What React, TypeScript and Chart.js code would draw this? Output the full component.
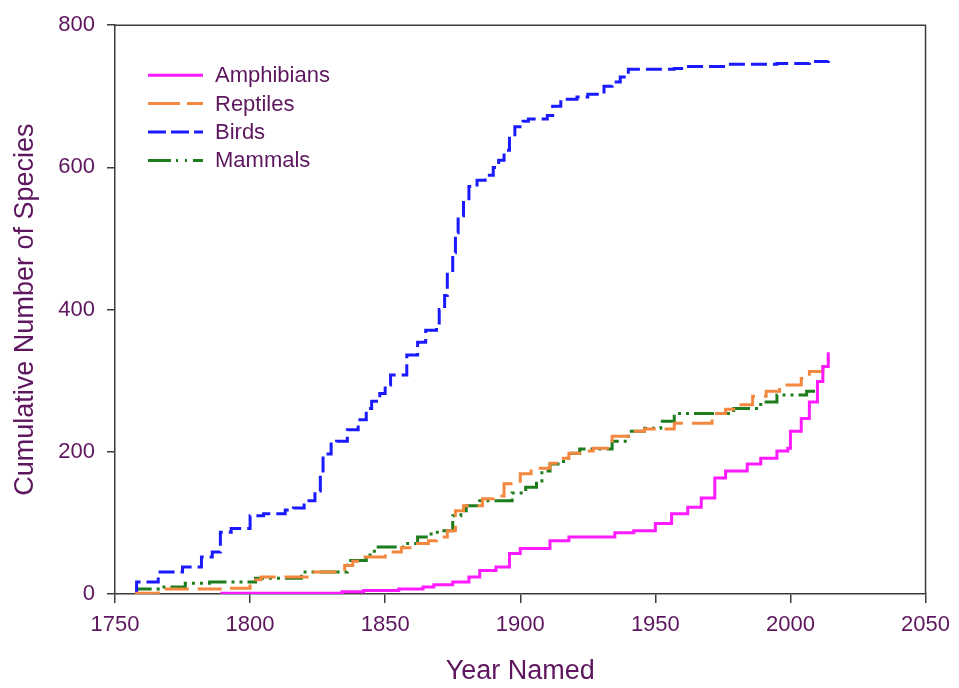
import { useEffect, useRef } from "react";
import { Chart, registerables } from "chart.js";

Chart.register(...registerables);

// ---- data ----
const amphibianYears = [1789, 1834, 1842, 1855, 1864, 1868, 1875, 1881, 1885, 1891, 1896, 1900, 1911, 1918, 1935, 1942, 1950, 1956, 1962, 1967, 1972, 1976, 1984, 1989, 1995, 1999, 2000, 2004, 2007, 2010, 2012, 2014];
const amphibianCounts = [1, 3, 5, 7, 10, 13, 17, 24, 33, 38, 57, 64, 75, 80, 86, 89, 99, 113, 122, 135, 163, 173, 183, 191, 201, 205, 229, 247, 270, 299, 320, 340];

const reptileYears = [1758, 1758, 1766, 1790, 1800, 1804, 1823, 1835, 1838, 1842, 1850, 1856, 1862, 1866, 1869, 1873, 1876, 1879, 1886, 1890, 1894, 1900, 1904, 1911, 1915, 1918, 1922, 1927, 1934, 1940, 1946, 1957, 1971, 1976, 1979, 1986, 1991, 1996, 2004, 2007, 2012, 2014];
const reptileCounts = [0, 1, 7, 8, 20, 24, 31, 40, 46, 52, 59, 65, 71, 75, 80, 89, 117, 124, 134, 138, 155, 169, 177, 184, 191, 198, 201, 205, 222, 229, 232, 240, 254, 260, 266, 278, 285, 294, 303, 313, 322, 333];

const birdYears = [1758, 1758, 1766, 1775, 1782, 1786, 1789, 1793, 1800, 1805, 1813, 1816, 1820, 1824, 1826, 1827, 1830, 1832, 1836, 1840, 1843, 1845, 1848, 1850, 1852, 1858, 1862, 1865, 1869, 1870, 1872, 1873, 1875, 1876, 1877, 1879, 1881, 1884, 1887, 1890, 1892, 1894, 1896, 1898, 1901, 1903, 1910, 1912, 1915, 1921, 1925, 1931, 1934, 1937, 1940, 1957, 1961, 1976, 1995, 2007, 2014];
const birdCounts = [0, 17, 31, 38, 52, 59, 87, 92, 110, 113, 118, 121, 131, 145, 170, 197, 211, 215, 231, 245, 261, 271, 282, 294, 308, 336, 354, 371, 378, 400, 420, 452, 480, 508, 532, 553, 573, 582, 589, 600, 610, 624, 643, 657, 665, 668, 673, 686, 696, 699, 703, 714, 720, 727, 738, 739, 742, 745, 746, 749, 750];

const mammalYears = [1758, 1758, 1766, 1776, 1785, 1802, 1819, 1836, 1843, 1846, 1857, 1862, 1867, 1871, 1875, 1878, 1880, 1885, 1897, 1902, 1906, 1908, 1911, 1916, 1919, 1922, 1934, 1940, 1946, 1952, 1957, 1979, 1989, 1995, 2006, 2010, 2012];
const mammalCounts = [0, 7, 10, 15, 17, 22, 31, 47, 55, 66, 71, 80, 87, 89, 110, 117, 124, 131, 142, 150, 159, 173, 183, 191, 198, 204, 215, 229, 233, 243, 254, 261, 270, 280, 285, 299, 300];

const seriesNames = ["Amphibians", "Reptiles", "Birds", "Mammals"];
const xTickValues = [1750, 1800, 1850, 1900, 1950, 2000, 2050];
const yTickValues = [0, 200, 400, 600, 800];
const xTitle = "Year Named";
const yTitle = "Cumulative Number of Species";

// ---- styles ----
const TEXT = "#5e165e";
const AXIS = "#3c3c3c";
const FONT = '"Liberation Sans", Arial, sans-serif';

const toPoints = (xs: number[], ys: number[]) => xs.map((x, i) => ({ x, y: ys[i] }));

const framePlugin = {
  id: "frameTopRight",
  afterDraw(chart: any) {
    const { ctx, chartArea } = chart;
    ctx.save();
    ctx.strokeStyle = AXIS;
    ctx.lineWidth = 1.5;
    ctx.beginPath();
    ctx.moveTo(chartArea.left, chartArea.top);
    ctx.lineTo(chartArea.right, chartArea.top);
    ctx.lineTo(chartArea.right, chartArea.bottom);
    ctx.stroke();
    ctx.restore();
  },
};

const legendPlugin = {
  id: "insideLegend",
  afterDraw(chart: any) {
    const { ctx, chartArea } = chart;
    const x0 = chartArea.left + 33;
    const y0 = chartArea.top + 50;
    chart.data.datasets.forEach((ds: any, i: number) => {
      const y = y0 + i * 28.4;
      ctx.save();
      ctx.strokeStyle = ds.borderColor;
      ctx.lineWidth = ds.borderWidth;
      ctx.setLineDash(ds.legendDash || ds.borderDash || []);
      ctx.beginPath();
      ctx.moveTo(x0, y);
      ctx.lineTo(x0 + 55, y);
      ctx.stroke();
      ctx.restore();
      ctx.save();
      ctx.fillStyle = TEXT;
      ctx.font = `22px ${FONT}`;
      ctx.textBaseline = "middle";
      ctx.textAlign = "left";
      ctx.fillText(ds.label, x0 + 67, y + 1);
      ctx.restore();
    });
  },
};

export default function App() {
  const ref = useRef<HTMLCanvasElement | null>(null);

  useEffect(() => {
    if (!ref.current) return;
    const common = {
      stepped: "before" as const,
      pointRadius: 0,
      pointHoverRadius: 0,
      fill: false,
      tension: 0,
      borderWidth: 3,
      borderCapStyle: "butt" as const,
    };
    const chart = new Chart(ref.current, {
      type: "line",
      data: {
        datasets: [
          {
            ...common,
            label: seriesNames[0],
            data: toPoints(amphibianYears, amphibianCounts),
            borderColor: "#ff1aff",
            borderDash: [],
          },
          {
            ...common,
            label: seriesNames[1],
            data: toPoints(reptileYears, reptileCounts),
            borderColor: "#f5883f",
            borderDash: [24, 9],
            legendDash: [32, 7],
          },
          {
            ...common,
            label: seriesNames[2],
            data: toPoints(birdYears, birdCounts),
            borderColor: "#1a1aff",
            borderDash: [16, 6],
            legendDash: [18, 5],
          },
          {
            ...common,
            label: seriesNames[3],
            data: toPoints(mammalYears, mammalCounts),
            borderColor: "#1c7d1c",
            borderDash: [20, 5, 3, 5, 3, 5],
            legendDash: [23, 5, 2, 7, 2, 6],
          },
        ] as any,
      },
      options: {
        animation: false,
        responsive: false,
        devicePixelRatio: 1,
        events: [],
        layout: { padding: { top: 21, right: 28, left: 0, bottom: 0 } },
        plugins: {
          legend: { display: false },
          tooltip: { enabled: false },
        },
        scales: {
          x: {
            type: "linear",
            min: 1750,
            max: 2050,
            afterBuildTicks: (scale: any) => {
              scale.ticks = xTickValues.map((v) => ({ value: v }));
            },
            afterFit: (scale: any) => {
              scale.height = 94;
            },
            ticks: {
              color: TEXT,
              font: { size: 22, family: FONT },
              padding: 9,
              maxRotation: 0,
              autoSkip: false,
              callback: (v: any) => String(v),
            },
            grid: {
              drawOnChartArea: false,
              drawTicks: true,
              tickLength: 9,
              color: AXIS,
              lineWidth: 1.5,
            },
            border: { display: true, color: AXIS, width: 1.5 },
            title: {
              display: true,
              text: xTitle,
              color: TEXT,
              font: { size: 27, family: FONT },
              padding: { top: 0, bottom: 0 },
            },
          },
          y: {
            type: "linear",
            min: 0,
            max: 800,
            afterBuildTicks: (scale: any) => {
              scale.ticks = yTickValues.map((v) => ({ value: v }));
            },
            afterFit: (scale: any) => {
              scale.width = 115;
            },
            ticks: {
              color: TEXT,
              font: { size: 22, family: FONT },
              padding: 12,
              autoSkip: false,
              callback: (v: any) => String(v),
            },
            grid: {
              drawOnChartArea: false,
              drawTicks: true,
              tickLength: 8,
              color: AXIS,
              lineWidth: 1.5,
            },
            border: { display: true, color: AXIS, width: 1.5 },
            title: {
              display: true,
              text: yTitle,
              color: TEXT,
              font: { size: 27, family: FONT },
              padding: { top: 9, bottom: 0 },
            },
          },
        },
      },
      plugins: [framePlugin, legendPlugin],
    });
    return () => chart.destroy();
  }, []);

  return (
    <div style={{ position: "absolute", left: 0, top: 0, width: 959, height: 688, background: "#fff" }}>
      <canvas ref={ref} width={959} height={688} style={{ display: "block", width: 959, height: 688 }} />
    </div>
  );
}
